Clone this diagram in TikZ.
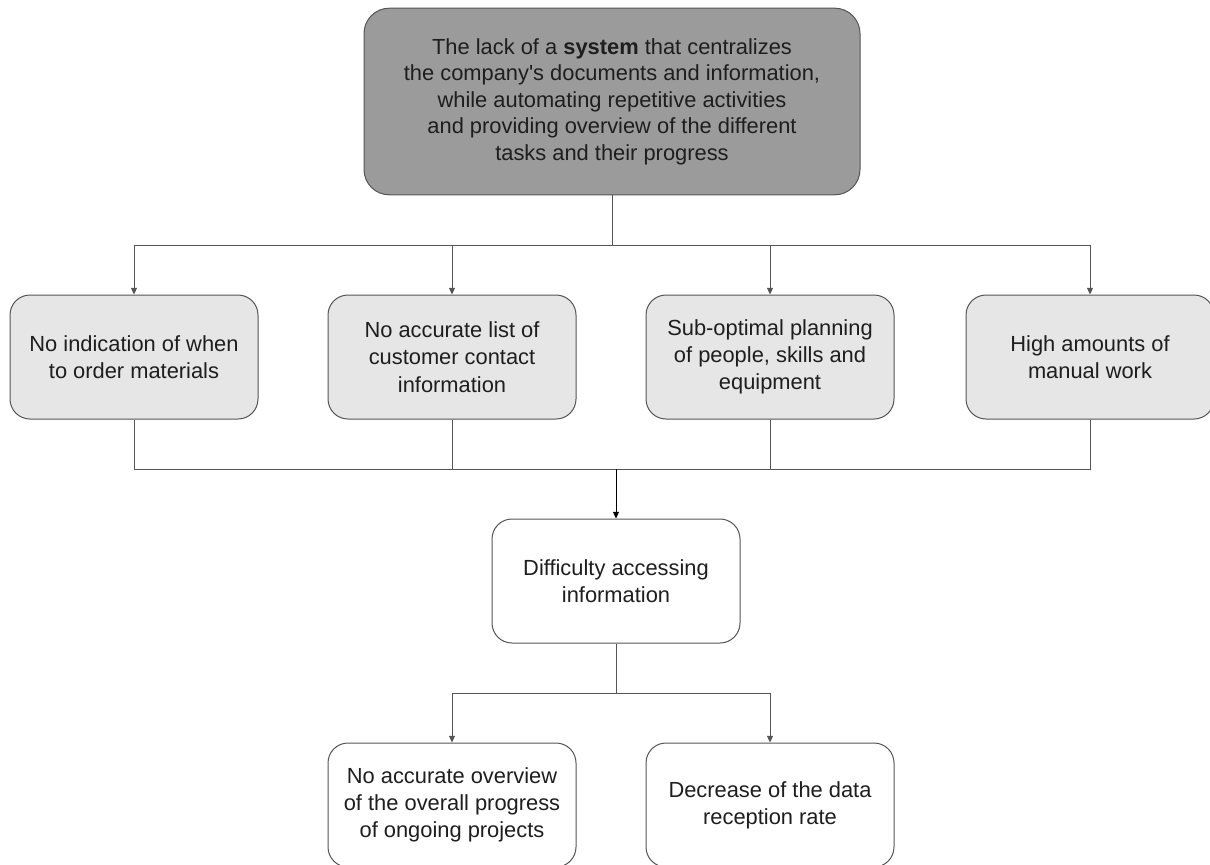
\documentclass[tikz,border=0pt]{standalone}
\usepackage{fontspec}
\setmainfont{Liberation Sans}[Ligatures=TeXOff]
\usetikzlibrary{arrows.meta}
\definecolor{topfill}{HTML}{9B9B9B}
\definecolor{midfill}{HTML}{E6E6E6}
\definecolor{linegray}{HTML}{555555}
\definecolor{txt}{HTML}{1E1E1E}
\begin{document}
\begin{tikzpicture}[x={(0.75pt,0)},y={(0,-0.75pt)},
  box/.style={draw=linegray, line width=0.75pt, rounded corners=15pt,
    minimum width=186pt, minimum height=93pt, align=center, text=txt,
    font=\fontsize{16.4pt}{20.4pt}\selectfont, inner sep=0pt},
  greybox/.style={box, fill=midfill},
  whitebox/.style={box, fill=white},
  conn/.style={draw=linegray, line width=0.7pt},
  arr/.style={conn, -{Triangle[length=5pt,width=4.5pt]}}
]
\useasboundingbox (0,0) rectangle (1210,864);
\fill[white] (0,0) rectangle (1210,864);

\node[box, fill=topfill, minimum width=372pt, minimum height=140pt, rounded corners=19pt,
  font=\fontsize{16.4pt}{19.9pt}\selectfont] (top) at (612,101.5)
  {The lack of a \textbf{system} that centralizes\\
   the company's documents and information,\\
   while automating repetitive activities\\
   and providing overview of the different\\
   tasks and their progress};

\node[greybox] (b1) at (134,357) {No indication of when\\to order materials};
\node[greybox] (b2) at (452,357) {No accurate list of\\customer contact\\information};
\node[greybox] (b3) at (770,357) {Sub-optimal planning\\of people, skills and\\equipment};
\node[greybox] (b4) at (1090,357) {High amounts of\\manual work};

\node[whitebox] (b5) at (616,581) {Difficulty accessing\\information};

\node[whitebox] (b6) at (452,805) {No accurate overview\\of the overall progress\\of ongoing projects};
\node[whitebox] (b7) at (770,805) {Decrease of the data\\reception rate};

\coordinate (j1) at (612,245);
\coordinate (j2) at (616,469);
\coordinate (j3) at (616,693);

% top fan-out
\draw[conn] (top.south) -- (j1);
\draw[conn] (b1.north |- j1) -- (b4.north |- j1);
\foreach \b in {b1,b2,b3,b4} \draw[arr] (\b.north |- j1) -- (\b.north);

% merge
\draw[conn] (b1.south) -- (b1.south |- j2) -- (b4.south |- j2) -- (b4.south);
\draw[conn] (b2.south) -- (b2.south |- j2);
\draw[conn] (b3.south) -- (b3.south |- j2);
\draw[arr, draw=black] (j2) -- (b5.north);

% bottom fan-out
\draw[conn] (b5.south) -- (j3);
\draw[conn] (b6.north |- j3) -- (b7.north |- j3);
\draw[arr] (b6.north |- j3) -- (b6.north);
\draw[arr] (b7.north |- j3) -- (b7.north);
\end{tikzpicture}
\end{document}
